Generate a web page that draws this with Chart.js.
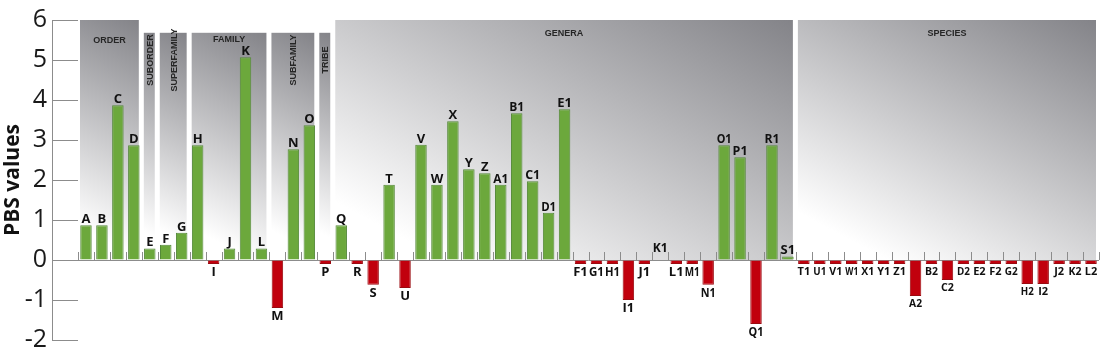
<!DOCTYPE html>
<html>
<head>
<meta charset="utf-8">
<script src="https://cdn.jsdelivr.net/npm/chart.js@4.4.1/dist/chart.umd.min.js"></script>
<style>
    html, body { margin: 0; padding: 0; background: #fff; }
    #wrap { width: 1102px; height: 360px; }
</style>
</head>
<body>
<div id="wrap"><canvas id="pbsChart" width="1102" height="360"></canvas></div>
<script>
// taxon labels, left to right
const taxa = [
    'A', 'B', 'C', 'D', 'E', 'F', 'G', 'H', 'I', 'J', 'K', 'L', 'M',
    'N', 'O', 'P', 'Q', 'R', 'S', 'T', 'U', 'V', 'W', 'X', 'Y', 'Z',
    'A1', 'B1', 'C1', 'D1', 'E1', 'F1', 'G1', 'H1', 'I1', 'J1', 'K1', 'L1', 'M1',
    'N1', 'O1', 'P1', 'Q1', 'R1', 'S1', 'T1', 'U1', 'V1', 'W1', 'X1', 'Y1', 'Z1',
    'A2', 'B2', 'C2', 'D2', 'E2', 'F2', 'G2', 'H2', 'I2', 'J2', 'K2', 'L2'
];

// PBS values
const pbsValues = [
    0.87, 0.87, 3.87, 2.87, 0.29, 0.38, 0.68, 2.87, -0.1, 0.29, 5.07, 0.29, -1.2,
    2.77, 3.37, -0.1, 0.87, -0.1, -0.62, 1.88, -0.7, 2.88, 1.88, 3.47, 2.27, 2.17,
    1.88, 3.67, 1.97, 1.18, 3.77, -0.1, -0.1, -0.1, -1.0, -0.1, 0, -0.1, -0.1,
    -0.62, 2.87, 2.57, -1.6, 2.87, 0.09, -0.1, -0.1, -0.1, -0.1, -0.1, -0.1, -0.1,
    -0.9, -0.1, -0.5, -0.1, -0.1, -0.1, -0.1, -0.6, -0.6, -0.1, -0.1, -0.1
];

const yMin = -2;
const yMax = 6;

// taxonomic level panels behind the bars
const groupNames = ['ORDER', 'SUBORDER', 'SUPERFAMILY', 'FAMILY', 'SUBFAMILY', 'TRIBE', 'GENERA', 'SPECIES'];
const groupFirst = ['A', 'E', 'F', 'H', 'M', 'P', 'Q', 'T1'];
const groupLast = ['D', 'E', 'G', 'L', 'O', 'P', 'S1', 'L2'];

const GREEN = '#6ca83c';
const GREEN_EDGE = '#55893a';
const RED = '#c1000d';
const RED_EDGE = '#9a0a10';

const panelsPlugin = {
    id: 'panels',
    beforeDatasetsDraw(chart) {
        const { ctx, chartArea, scales: { x, y } } = chart;
        const step = x.getPixelForValue(1) - x.getPixelForValue(0);
        const y0 = y.getPixelForValue(0);
        const tall = ['ORDER', 'GENERA', 'SPECIES'];
        const vertical = ['SUBORDER', 'SUPERFAMILY', 'SUBFAMILY', 'TRIBE'];

        ctx.save();
        groupNames.forEach((name, g) => {
            const i0 = taxa.indexOf(groupFirst[g]);
            const i1 = taxa.indexOf(groupLast[g]);
            const left = x.getPixelForValue(i0) - step / 2 + 2;
            const right = x.getPixelForValue(i1) + step / 2 - 3;
            const top = y.getPixelForValue(tall.includes(name) ? 6 : 5.68);
            const w = right - left;
            const h = y0 - top;

            // gradient: white at bottom left, dark grey at top right
            const dx = 0.47, dy = -0.88;
            const t = w * dx + h * -dy;
            const grad = ctx.createLinearGradient(left, y0, left + dx * t, y0 + dy * t);
            grad.addColorStop(0, '#ffffff');
            grad.addColorStop(0.12, '#ffffff');
            grad.addColorStop(1, '#848489');
            ctx.fillStyle = grad;
            ctx.fillRect(left, top, w, h);

            ctx.fillStyle = '#262626';
            ctx.font = 'bold 9px "Liberation Sans", Arial, sans-serif';
            ctx.textAlign = 'center';
            ctx.textBaseline = 'middle';
            if (vertical.includes(name)) {
                ctx.save();
                ctx.translate((left + right) / 2 + 1, 60);
                ctx.rotate(-Math.PI / 2);
                ctx.fillText(name, 0, 0);
                ctx.restore();
            } else {
                const ly = name === 'ORDER' ? top + 21 : name === 'FAMILY' ? top + 7 : top + 14;
                ctx.fillText(name, (left + right) / 2, ly);
            }
        });

        // y axis line, left of the tick marks
        const axisX = chartArea.left - 26;
        ctx.strokeStyle = '#8c8c8c';
        ctx.lineWidth = 1;
        ctx.beginPath();
        ctx.moveTo(axisX + 0.5, y.getPixelForValue(yMax));
        ctx.lineTo(axisX + 0.5, y.getPixelForValue(yMin));
        ctx.stroke();

        // zero line with small ticks between the bars
        ctx.beginPath();
        ctx.moveTo(chartArea.left, y0 + 0.5);
        ctx.lineTo(chartArea.right, y0 + 0.5);
        for (let i = 0; i <= taxa.length; i++) {
            const px = Math.round(x.getPixelForValue(i) - step / 2) + 0.5;
            ctx.moveTo(px, y0);
            ctx.lineTo(px, y0 - 8);
        }
        ctx.stroke();
        ctx.restore();
    }
};

const barLabelsPlugin = {
    id: 'barLabels',
    afterDatasetsDraw(chart) {
        const { ctx, scales: { x } } = chart;
        const meta = chart.getDatasetMeta(0);
        const step = x.getPixelForValue(1) - x.getPixelForValue(0);
        const speciesStart = taxa.indexOf('T1');
        ctx.save();
        ctx.fillStyle = '#111';
        ctx.textAlign = 'center';
        ctx.textBaseline = 'alphabetic';
        meta.data.forEach((bar, i) => {
            const v = pbsValues[i];
            const size = i >= speciesStart ? 11 : 13;
            const maxW = i >= speciesStart ? step - 3 : step - 1;
            ctx.font = 'bold ' + size + 'px "Open Sans", sans-serif';
            let ly;
            if (v > 0) {
                ly = bar.y - 2;
            } else if (v === 0) {
                ly = bar.y - 8;
            } else {
                ly = bar.y + 3 + size * 0.72;
            }
            ctx.fillText(taxa[i], bar.x, ly, maxW);
        });
        ctx.restore();
    }
};

const ctx = document.getElementById('pbsChart').getContext('2d');
const pbsChart = new Chart(ctx, {
    type: 'bar',
    data: {
        labels: taxa,
        datasets: [{
            data: pbsValues,
            backgroundColor: pbsValues.map(v => v >= 0 ? GREEN : RED),
            borderColor: pbsValues.map(v => v >= 0 ? GREEN_EDGE : RED_EDGE),
            borderWidth: 1,
            barPercentage: 0.72,
            categoryPercentage: 1
        }]
    },
    options: {
        responsive: false,
        animation: false,
        devicePixelRatio: 1,
        layout: {
            padding: { top: 14, right: 3, bottom: 19, left: 0 }
        },
        plugins: {
            legend: { display: false },
            tooltip: { enabled: false }
        },
        scales: {
            x: {
                display: false
            },
            y: {
                min: yMin,
                max: yMax,
                afterFit(scale) {
                    scale.width = 78;
                },
                ticks: {
                    stepSize: 1,
                    padding: 5,
                    color: '#1a1a1a',
                    font: { family: '"Open Sans", sans-serif', size: 25 }
                },
                grid: {
                    drawOnChartArea: false,
                    tickLength: 26,
                    color: '#8c8c8c'
                },
                border: { display: false },
                title: {
                    display: true,
                    text: 'PBS values',
                    color: '#111',
                    padding: { top: 0, bottom: 0 },
                    font: { family: '"Open Sans", sans-serif', size: 21, weight: 'bold' }
                }
            }
        }
    },
    plugins: [panelsPlugin, barLabelsPlugin]
});
</script>
</body>
</html>
